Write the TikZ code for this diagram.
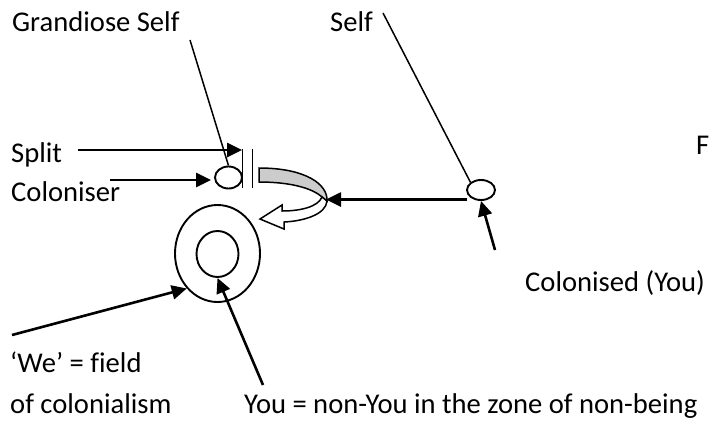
\documentclass[tikz,border=0pt]{standalone}
\usepackage{fontspec}
\setmainfont{Carlito}[Ligatures=NoCommon]
\usetikzlibrary{arrows.meta,shapes.geometric}
\begin{document}
\begin{tikzpicture}[x=1pt,y=-1pt,
  lbl/.style={anchor=base west,inner sep=0pt,font=\fontsize{28.6}{34}\selectfont},
  arr/.style={line width=2.6pt,-{Triangle[length=15pt,width=14pt]}},
  thinline/.style={line width=1.5pt},
  ring/.style={draw,ellipse,line width=1.9pt,inner sep=0pt}]
\useasboundingbox (0,0) rectangle (715,426);

% labels
\node[lbl] (tGS) at (12,31) {Grandiose Self};
\node[lbl] (tS) at (330,31) {Self};
\node[lbl] (tF) at (696,154) {F};
\node[lbl] (tSp) at (11,162) {Split};
\node[lbl] (tCo) at (11,201) {Coloniser};
\node[lbl] (tCd) at (525,291) {Colonised (You)};
\node[lbl] (tWe) at (10,372) {‘We’ = field};
\node[lbl] (tOf) at (10,413) {of colonialism};
\node[lbl] (tYou) at (244,413) {You = non-You in the zone of non-being};

% shapes
\node[ring,minimum width=27pt,minimum height=22pt] (e1) at (228.5,177.5) {};
\node[ring,minimum width=28pt,minimum height=20pt] (e2) at (481,190) {};
\node[ring,minimum width=85pt,minimum height=97pt] (big) at (217.5,253.5) {};
\node[ring,minimum width=42pt,minimum height=46pt] (inner) at (217.5,254) {};

% split bars
\coordinate (b1t) at (242.7,149); \coordinate (b1b) at (242.7,188);
\coordinate (b2t) at (252.7,149); \coordinate (b2b) at (252.7,188);
\draw[thinline] (b1t) -- (b1b);
\draw[thinline] (b2t) -- (b2b);

% curved arrow
\coordinate (A) at (259,168);
\coordinate (B) at (327,201);
\coordinate (H) at (322,197);
\coordinate (Ai) at (259,182);
\draw[thinline,fill=gray!40] (A) .. controls (305,168) and (328,184) .. (B) -- (H)
   .. controls (312,188) and (290,182) .. (Ai) -- cycle;
\draw[thinline,fill=white] (B) .. controls (326,214) and (305,221) .. (284,222)
   -- (284,229) -- (260,219) -- (282,205) -- (282,211)
   .. controls (300,211) and (318,207) .. (H) -- cycle;

% thin connectors
\coordinate (gsS) at (190,40);
\coordinate (sS) at (383,13);
\draw[thinline] (gsS) -- (e1.north);
\draw[thinline] (sS) -- (e2.north west);

% arrows
\coordinate (spS) at (78,150); \coordinate (spE) at (242,150);
\draw[arr] (spS) -- (spE);
\coordinate (coS) at (110,180); \coordinate (coE) at (211,180);
\draw[arr] (coS) -- (coE);
\coordinate (hS) at (467,199.5); \coordinate (hE) at (326,199.5);
\draw[arr] (hS) -- (hE);
\coordinate (uS) at (495,250);
\draw[arr] (uS) -- (e2.south);
\coordinate (wS) at (12,335);
\draw[arr] (wS) -- (big.south west);
\coordinate (yS) at (263,385);
\draw[arr] (yS) -- (inner.south);
\end{tikzpicture}
\end{document}
